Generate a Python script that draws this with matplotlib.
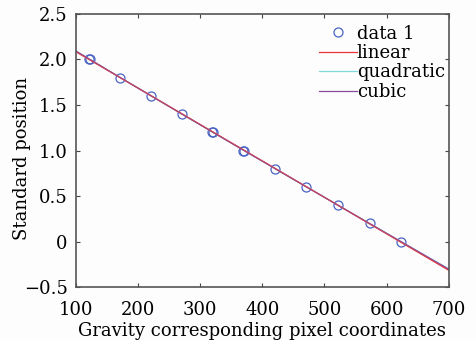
import numpy as np
import matplotlib
matplotlib.use("Agg")
import matplotlib.pyplot as plt

plt.rcParams['font.family'] = ['DejaVu Serif']

x_data = [121, 123, 171, 221, 271, 319, 321, 369, 371, 421, 471, 522, 573, 623]
y_data = [2.0, 2.0, 1.8, 1.6, 1.4, 1.2, 1.2, 1.0, 1.0, 0.8, 0.6, 0.4, 0.2, 0.0]
x_ticks = [100, 200, 300, 400, 500, 600, 700]
y_ticks = [-0.5, 0, 0.5, 1.0, 1.5, 2.0, 2.5]
y_ticklabels = ['\u22120.5', '0', '0.5', '1.0', '1.5', '2.0', '2.5']

fig = plt.figure(figsize=(4.77, 3.40), dpi=100)
fig.patch.set_facecolor('#fdfdfd')
ax = fig.add_axes([76/477, 1 - 287.3/340, (448.7-76)/477, (287.3-13.7)/340])
ax.set_facecolor('#fdfdfd')

xs = np.linspace(100, 700, 200)
ax.plot(x_data, y_data, 'o', mfc='none', mec='#4a63c4', ms=6.5, mew=0.9, label='data 1')
for deg, col, name in [(1, '#e8333a', 'linear'), (2, '#80d8d8', 'quadratic'), (3, '#8a4a9c', 'cubic')]:
    p = np.polyfit(x_data, y_data, deg)
    ax.plot(xs, np.polyval(p, xs), color=col, lw=0.9, label=name)
p1 = np.polyfit(x_data, y_data, 1)
ax.plot(xs, np.polyval(p1, xs), color='#e8333a', lw=0.8, alpha=0.6)

ax.set_xlim(100, 700)
ax.set_ylim(-0.5, 2.5)
ax.set_xticks(x_ticks)
ax.set_yticks(y_ticks)
ax.set_yticklabels(y_ticklabels)
ax.tick_params(direction='in', top=True, right=True, labelsize=13, length=3, color='#444444')
ax.tick_params(axis='x', pad=10)
ax.tick_params(axis='y', pad=6)
for s in ax.spines.values():
    s.set_color('#555555')
    s.set_linewidth(1.2)
ax.set_xlabel('Gravity corresponding pixel coordinates', fontsize=13, labelpad=2)
ax.set_ylabel('Standard position', fontsize=13)
ax.yaxis.set_label_coords(-0.121, 0.471)
ax.legend(loc='upper right', frameon=False, fontsize=13, handlelength=2.1,
          handletextpad=0.0, labelspacing=0.08, borderaxespad=0.2,
          bbox_to_anchor=(1.019, 1.0))
fig.savefig('out.png', dpi=100, facecolor=fig.get_facecolor())
